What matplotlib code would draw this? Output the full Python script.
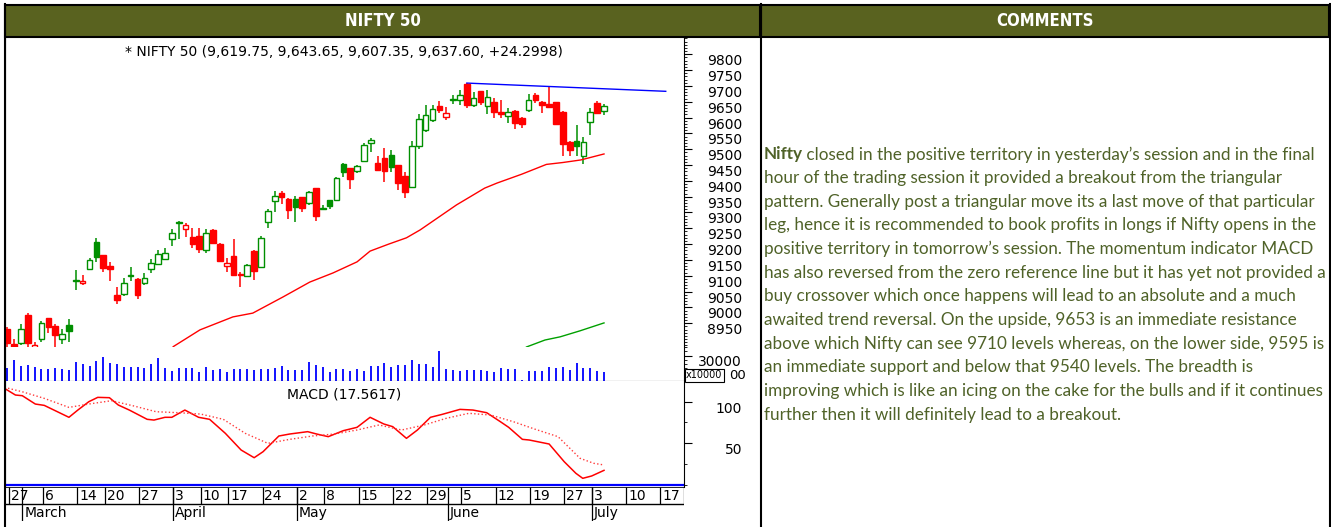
import matplotlib
matplotlib.use("Agg")
import matplotlib.pyplot as plt
from matplotlib.patches import Rectangle
from matplotlib.lines import Line2D
from matplotlib.ticker import MultipleLocator

W, H = 1331, 527

# ---- candles: index 0 = 27 Feb, 87 = 5 Jul ----
opens = [8931, 8884, 8887, 8976, 8872, 8900, 8968, 8942, 8900, 8943,
         9084, 9078, 9121, 9206, 9166, 9131, 9039, 9043, 9099, 9089,
         9076, 9122, 9137, 9153, 9216, 9267, 9247, 9222, 9226, 9182,
         9245, 9201, 9132, 9161, 9106, 9099, 9179, 9129, 9271, 9336,
         9361, 9343, 9343, 9348, 9329, 9376, 9312, 9340, 9340, 9452,
         9440, 9432, 9463, 9519, 9458, 9473, 9482, 9450, 9416, 9382,
         9510, 9561, 9592, 9637, 9603, 9657, 9656, 9706, 9640, 9684,
         9638, 9650, 9619, 9605, 9622, 9600, 9624, 9671, 9650, 9642,
         9648, 9619, 9524, 9526, 9480, 9587, 9647, 9619.75]
highs = [8939, 8900, 8948, 8981, 8892, 8957, 8968, 8947, 8932, 8964,
         9118, 9103, 9157, 9218, 9166, 9143, 9066, 9092, 9129, 9092,
         9108, 9152, 9182, 9187, 9247, 9274, 9268, 9250, 9250, 9247,
         9247, 9203, 9155, 9215, 9113, 9137, 9182, 9226, 9311, 9368,
         9368, 9345, 9352, 9350, 9368, 9378, 9324, 9341, 9413, 9455,
         9441, 9450, 9519, 9537, 9477, 9505, 9498, 9451, 9429, 9526,
         9610, 9640, 9640, 9652, 9635, 9671, 9687, 9709, 9682, 9685,
         9687, 9661, 9656, 9631, 9623, 9601, 9673, 9677, 9652, 9698,
         9649, 9620, 9525, 9577, 9540, 9629, 9652, 9643.65]
lows = [8870, 8868, 8881, 8873, 8866, 8890, 8918, 8876, 8883, 8890,
        9055, 9070, 9118, 9145, 9111, 9082, 9011, 9036, 9085, 9026,
        9071, 9108, 9134, 9150, 9194, 9215, 9224, 9187, 9171, 9171,
        9203, 9145, 9113, 9101, 9066, 9096, 9088, 9125, 9250, 9303,
        9327, 9280, 9269, 9300, 9325, 9273, 9308, 9310, 9338, 9413,
        9374, 9426, 9461, 9490, 9432, 9396, 9429, 9371, 9345, 9380,
        9501, 9553, 9587, 9613, 9592, 9642, 9640, 9629, 9634, 9640,
        9610, 9600, 9600, 9584, 9564, 9566, 9619, 9645, 9613, 9632,
        9575, 9477, 9477, 9479, 9453, 9545, 9613, 9607.35]
closes = [8887, 8872, 8931, 8887, 8880, 8950, 8937, 8913, 8915, 8924,
          9086, 9082, 9150, 9160, 9126, 9121, 9024, 9078, 9101, 9040,
          9094, 9140, 9170, 9172, 9236, 9269, 9261, 9200, 9184, 9236,
          9205, 9148, 9140, 9103, 9102, 9134, 9116, 9219, 9306, 9352,
          9348, 9308, 9316, 9315, 9366, 9289, 9314, 9321, 9408, 9427,
          9405, 9447, 9513, 9528, 9434, 9431, 9445, 9392, 9366, 9510,
          9595, 9608, 9627, 9625, 9616, 9659, 9672, 9640, 9663, 9650,
          9666, 9619, 9610, 9618, 9583, 9581, 9657, 9655, 9640, 9633,
          9579, 9517, 9498, 9510, 9522, 9617, 9616, 9637.60]

# volume, in units of 10000 shares
volume = [15700, 24700, 18000, 18800, 16900, 14500, 14500, 15700, 14500, 13300,
          22300, 20400, 18000, 23500, 28600, 21600, 20000, 16900, 16900, 16900,
          15700, 20000, 27400, 15700, 12100, 15700, 15700, 15700, 10900, 16900,
          13300, 14500, 10900, 14500, 14500, 14500, 13300, 14500, 14500, 15700,
          18000, 13300, 13300, 13300, 22300, 18800, 16100, 10900, 13700, 13700,
          12100, 13700, 12100, 17600, 17600, 21500, 16800, 18800, 18800, 24700,
          20000, 20300, 16800, 35300, 14100, 12900, 11400, 12900, 12900, 12900,
          12100, 10900, 15700, 14100, 14100, 1000, 12100, 12100, 12100, 16500,
          14900, 16500, 13300, 21500, 15700, 14900, 12100, 10600]

# moving averages and trend line
ma_red_x = [24.2, 28.1, 32.9, 35.8, 40.2, 44.1, 47.5, 51.0, 52.9, 55.6, 58.2,
            60.2, 65.5, 67.9, 69.6, 71.4, 75.0, 78.6, 81.0, 83.6, 87.0]
ma_red_v = [8876, 8929, 8970, 8982, 9033, 9080, 9109, 9144, 9178, 9200, 9220,
            9245, 9324, 9355, 9377, 9393, 9421, 9452, 9458, 9466, 9485]
ma_green_x = [75.7, 78.4, 80.6, 83.5, 87.0]
ma_green_v = [8875, 8897, 8907, 8926, 8951]
trend_x = [67, 96]
trend_v = [9709, 9683]

# MACD and its signal line
macd_x = [-0.4, 1.2, 2.2, 4.1, 5.4, 9.0, 10.3, 11.9, 13.2, 14.9,
          16.2, 17.8, 20.4, 21.4, 23.0, 24.0, 25.9, 27.9, 29.5, 31.8,
          34.1, 36.0, 37.3, 39.6, 41.2, 43.8, 45.1, 46.8, 49.0, 51.0,
          52.9, 54.9, 56.2, 58.2, 59.8, 61.7, 63.4, 66.0, 67.9, 69.9,
          71.9, 73.1, 75.1, 76.1, 79.0, 81.2, 82.9, 83.9, 85.2, 87.0]
macd_v = [115.8, 107.8, 107.0, 97.0, 95.4, 81.1, 89.8, 99.8, 105.0, 104.6,
          95.8, 89.8, 78.7, 77.8, 81.1, 81.1, 89.8, 81.1, 78.7, 61.9,
          41.9, 32.7, 39.9, 58.7, 61.1, 63.9, 61.1, 57.9, 65.1, 69.1,
          81.1, 73.1, 69.9, 55.9, 65.9, 81.1, 84.6, 90.6, 89.8, 86.6,
          75.8, 69.1, 54.7, 53.9, 49.1, 27.9, 14.0, 8.0, 10.8, 17.56]
signal_x = [-0.4, 2.2, 5.4, 9.0, 11.9, 15.2, 18.5, 21.7, 25.0, 28.2,
            31.5, 34.7, 38.0, 41.2, 44.5, 47.7, 51.0, 54.2, 57.5, 60.8,
            64.0, 67.3, 70.5, 73.8, 77.0, 80.3, 83.5, 85.5, 87.0]
signal_v = [117.0, 111.7, 103.8, 93.0, 97.0, 101.0, 94.6, 87.8, 86.6, 85.0,
            78.7, 61.9, 49.9, 54.7, 58.7, 61.1, 65.9, 71.9, 65.9, 71.9,
            79.9, 85.9, 83.8, 75.8, 66.7, 57.9, 32.0, 26.0, 24.0]

day_ticks = [0, 5, 10, 14, 19, 24, 28, 32, 37, 42, 46, 51, 56, 61, 66, 71,
             76, 81, 85, 90, 95]
day_labels = ["27", "6", "14", "20", "27", "3", "10", "17", "24", "2", "8",
              "15", "22", "29", "5", "12", "19", "27", "3", "10", "17"]
month_ticks = [2, 24, 42, 64, 85]
month_labels = ["March", "April", "May", "June", "July"]

price_ticks = list(range(8950, 9801, 50))

chart_title = "* NIFTY 50 (9,619.75, 9,643.65, 9,607.35, 9,637.60, +24.2998)"
macd_title = "MACD (17.5617)"
comment_lines = [
    "closed in the positive territory in yesterday\u2019s session and in the final",
    "hour of the trading session it provided a breakout from the triangular",
    "pattern. Generally post a triangular move its a last move of that particular",
    "leg, hence it is recommended to book profits in longs if Nifty opens in the",
    "positive territory in tomorrow\u2019s session. The momentum indicator MACD",
    "has also reversed from the zero reference line but it has yet not provided a",
    "buy crossover which once happens will lead to an absolute and a much",
    "awaited trend reversal. On the upside, 9653 is an immediate resistance",
    "above which Nifty can see 9710 levels whereas, on the lower side, 9595 is",
    "an immediate support and below that 9540 levels. The breadth is",
    "improving which is like an icing on the cake for the bulls and if it continues",
    "further then it will definitely lead to a breakout.",
]

RED = "#ff0000"
GREEN = "#008f00"
BLUE = "#0000ff"
OLIVE = "#59621f"
TEXT_OLIVE = "#4f6228"
XLIM = (-0.32, 98.66)


def px_box(x0, y0, x1, y1):
    return [x0 / W, 1 - y1 / H, (x1 - x0) / W, (y1 - y0) / H]


def fig_line(fig, xs, ys, lw=1.5):
    fig.add_artist(Line2D([x / W for x in xs], [1 - y / H for y in ys],
                          transform=fig.transFigure, color="black", lw=lw))


def right_axis(ax, majors, labels, minor_step):
    ax.set_xticks([])
    ax.yaxis.tick_right()
    ax.set_yticks(majors)
    ax.set_yticklabels(labels)
    ax.yaxis.set_minor_locator(MultipleLocator(minor_step))
    ax.tick_params(axis="y", which="major", length=5.8, width=0.8, pad=36,
                   labelsize=10)
    ax.tick_params(axis="y", which="minor", length=2.2, width=0.6)
    for lbl in ax.get_yticklabels():
        lbl.set_horizontalalignment("right")
        lbl.set_verticalalignment("top")


fig = plt.figure(figsize=(W / 100, H / 100), dpi=100)
renderer = fig.canvas.get_renderer()

# header cells
for x0, x1, label in [(5, 760, "NIFTY 50"), (761, 1329, "COMMENTS")]:
    fig.patches.append(Rectangle((x0 / W, 1 - 37 / H), (x1 - x0) / W, 32 / H,
                                 transform=fig.transFigure, facecolor=OLIVE,
                                 edgecolor="black", lw=1.5))
    fig.text((x0 + x1) / 2 / W, 1 - 21 / H, label, color="white",
             fontsize=12, fontweight="bold", fontstretch="condensed",
             ha="center", va="center", family="DejaVu Sans")

# price panel
ax_p = fig.add_axes(px_box(5, 38, 684, 347))
n = len(closes)
bw = 0.82
for i in range(n):
    o, h, l, c = opens[i], highs[i], lows[i], closes[i]
    prev = closes[i - 1] if i else o
    col = GREEN if c >= prev else RED
    ax_p.vlines(i, l, h, color=col, lw=1.1, zorder=2)
    lo, hi = min(o, c), max(o, c)
    ax_p.add_patch(Rectangle((i - bw / 2, lo), bw, max(hi - lo, 1.0),
                             facecolor="white" if c > o else col,
                             edgecolor=col, lw=1.0, zorder=3))
ax_p.plot(ma_red_x, ma_red_v, color=RED, lw=1.0)
ax_p.plot(ma_green_x, ma_green_v, color="#00a000", lw=1.0)
ax_p.plot(trend_x, trend_v, color=BLUE, lw=1.0)
ax_p.set_xlim(*XLIM)
ax_p.set_ylim(8874.9, 9851.5)
right_axis(ax_p, price_ticks, [str(v) for v in price_ticks], 10)
ax_p.spines["top"].set_visible(False)
ax_p.spines["bottom"].set_visible(False)

# volume panel
ax_v = fig.add_axes(px_box(5, 347, 684, 381))
ax_v.vlines(range(n), 0, volume, color=BLUE, lw=1.3)
ax_v.set_xlim(*XLIM)
ax_v.set_ylim(0, 40000)
right_axis(ax_v, [30000], ["30000"], 5000)
ax_v.spines["top"].set_visible(False)
fig.text(686 / W, 1 - 375.5 / H, "x10000", fontsize=7, ha="left", va="center",
         bbox=dict(boxstyle="square,pad=0.15", facecolor="white",
                   edgecolor="black", lw=0.8))
fig.text(729 / W, 1 - 375.5 / H, "00", fontsize=9.5, ha="left", va="center")

# MACD panel
ax_m = fig.add_axes(px_box(5, 381, 684, 487))
ax_m.plot(macd_x, macd_v, color=RED, lw=1.1)
ax_m.plot(signal_x, signal_v, color="#ff3b3b", lw=1.0, ls=":")
ax_m.axhline(0, color=BLUE, lw=1.6)
ax_m.set_xlim(*XLIM)
ax_m.set_ylim(-2.4, 124.6)
right_axis(ax_m, [50, 100], ["50", "100"], 25)
ax_m.spines["top"].set_visible(False)
ax_m.spines["bottom"].set_visible(False)

# date axis
ax_d = fig.add_axes(px_box(5, 487, 684, 521))
ax_d.set_xlim(*XLIM)
ax_d.set_ylim(0, 1)
ax_d.axis("off")
ax_d.axhline(1, color="black", lw=1.2)
ax_d.axhline(0.5, color="black", lw=1.0)
ax_d.vlines([t + 0.22 for t in day_ticks], 0.5, 1, color="black", lw=0.9)
ax_d.vlines([t + 0.22 for t in month_ticks], 0, 1, color="black", lw=0.9)
ax_d.vlines(XLIM[1], 0.5, 1, color="black", lw=0.9)
for t, lab in zip(day_ticks, day_labels):
    ax_d.text(t + 0.5, 0.74, lab, fontsize=10, ha="left", va="center")
for t, lab in zip(month_ticks, month_labels):
    ax_d.text(t + 0.5, 0.24, lab, fontsize=10, ha="left", va="center")

# panel titles
fig.text(344 / W, 1 - 52 / H, chart_title, fontsize=10, ha="center", va="center")
fig.text(344 / W, 1 - 394 / H, macd_title, fontsize=10, ha="center", va="center")

# frame lines
fig_line(fig, [4.5, 4.5], [4, 527])
fig_line(fig, [760.5, 760.5], [4, 527])
fig_line(fig, [1329.5, 1329.5], [4, 527])

# comments text, fitted to the width of the first line
fam = ["Lato", "DejaVu Sans"]
probe = fig.text(0, 0, "Nifty " + comment_lines[0], fontsize=12, family=fam)
size = 12 * 549 / probe.get_window_extent(renderer).width
probe.remove()
x0, y0, dy = 763.5, 154.5, 23.64
bold = fig.text(x0 / W, 1 - y0 / H, "Nifty", fontsize=size, family=fam,
                fontweight="bold", color=TEXT_OLIVE, ha="left", va="center")
bw_px = bold.get_window_extent(renderer).width
for k, line in enumerate(comment_lines):
    x = x0 + bw_px if k == 0 else x0
    txt = " " + line if k == 0 else line
    fig.text(x / W, 1 - (y0 + k * dy) / H, txt, fontsize=size, family=fam,
             color=TEXT_OLIVE, ha="left", va="center")

fig.savefig("out.png", dpi=100, facecolor="white")
